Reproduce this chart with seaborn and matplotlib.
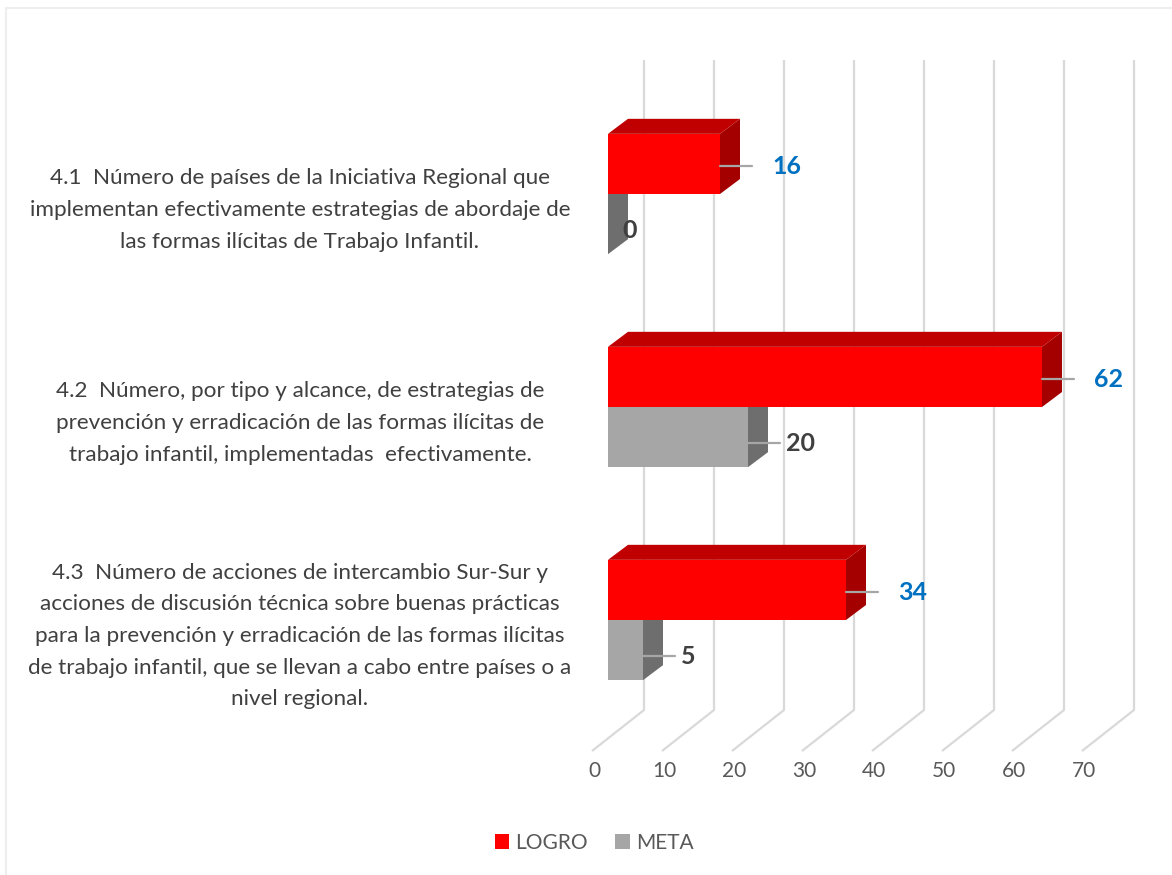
import matplotlib

matplotlib.use("Agg")
import matplotlib.pyplot as plt
import numpy as np
import pandas as pd
import seaborn as sns
from matplotlib.patches import Polygon, Rectangle

INDICADORES = [
    "4.1  Número de países de la Iniciativa Regional que\n"
    "implementan efectivamente estrategias de abordaje de\n"
    "las formas ilícitas de Trabajo Infantil.",
    "4.2  Número, por tipo y alcance, de estrategias de\n"
    "prevención y erradicación de las formas ilícitas de\n"
    "trabajo infantil, implementadas  efectivamente.",
    "4.3  Número de acciones de intercambio Sur-Sur y\n"
    "acciones de discusión técnica sobre buenas prácticas\n"
    "para la prevención y erradicación de las formas ilícitas\n"
    "de trabajo infantil, que se llevan a cabo entre países o a\n"
    "nivel regional.",
]
LOGRO = [16, 62, 34]
META = [0, 20, 5]
SERIES = ["LOGRO", "META"]
TICKS = [0, 10, 20, 30, 40, 50, 60, 70]

FRONT = {"LOGRO": "#ff0000", "META": "#a6a6a6"}
SIDE = {"LOGRO": "#a50000", "META": "#6e6e6e"}
TOP = {"LOGRO": "#c00000", "META": "#8c8c8c"}
LABEL_COLOR = {"LOGRO": "#0070c0", "META": "#404040"}

W, H = 1172, 875
X0_PX, PX_PER_UNIT = 608, 7.0  # pixel of value 0 on bar front, pixels per unit
Y0_PX, PX_PER_CAT = 194, 213.0

# 3D offsets (data units)
DX = 20 / PX_PER_UNIT
DY = -15 / PX_PER_CAT
BACK_DX = 36 / PX_PER_UNIT
FLOOR_DX = -16 / PX_PER_UNIT


def px_x(p):
    return (p - X0_PX) / PX_PER_UNIT


def px_y(p):
    return (p - Y0_PX) / PX_PER_CAT


df = pd.DataFrame(
    {
        "indicador": INDICADORES * 2,
        "valor": LOGRO + META,
        "serie": ["LOGRO"] * len(LOGRO) + ["META"] * len(META),
    }
)

sns.set_style("white")
plt.rcParams["font.family"] = ["Lato", "DejaVu Sans"]

fig = plt.figure(figsize=(W / 100, H / 100), dpi=100)
ax = fig.add_axes([0, 0, 1, 1])

sns.barplot(
    data=df,
    y="indicador",
    x="valor",
    hue="serie",
    hue_order=SERIES,
    orient="h",
    width=0.565,
    palette=FRONT,
    saturation=1,
    errorbar=None,
    legend=False,
    ax=ax,
)

ax.set_xlim(px_x(0), px_x(W))
ax.set_ylim(px_y(H), px_y(0))
ax.axis("off")

# back wall gridlines and floor
y_top, y_back, y_front = px_y(60), px_y(710), px_y(751)
for v in TICKS:
    ax.plot([v + BACK_DX, v + BACK_DX, v + FLOOR_DX], [y_top, y_back, y_front],
            color="#d9d9d9", lw=1.6, zorder=0, solid_capstyle="butt")
    ax.text(v + FLOOR_DX + 2 / PX_PER_UNIT, px_y(771), str(v), ha="center", va="center",
            fontsize=15, color="#595959")

# 3D faces for each bar
bars = [p for p in ax.patches if isinstance(p, Rectangle)]
n = len(INDICADORES)
for i, patch in enumerate(bars):
    serie = SERIES[i // n]
    z = 2 if serie == "META" else 3
    x0, x1 = patch.get_x(), patch.get_x() + patch.get_width()
    ya, yb = sorted([patch.get_y(), patch.get_y() + patch.get_height()])
    patch.set_zorder(z)
    patch.set_edgecolor("none")
    side = Polygon([(x1, ya), (x1 + DX, ya + DY), (x1 + DX, yb + DY), (x1, yb)],
                   closed=True, facecolor=SIDE[serie], edgecolor="none", zorder=z)
    top = Polygon([(x0, ya), (x0 + DX, ya + DY), (x1 + DX, ya + DY), (x1, ya)],
                  closed=True, facecolor=TOP[serie], edgecolor="none", zorder=z)
    ax.add_patch(side)
    ax.add_patch(top)

    value = patch.get_width()
    yc = (ya + yb) / 2 + (0.03 if serie == "META" else 0.01)
    if value > 0:
        ax.plot([x1, x1 + 32 / PX_PER_UNIT], [yc, yc], color="#a6a6a6", lw=1.6, zorder=4)
        gap = 52 if serie == "LOGRO" else 38
    else:
        gap = 14
    ax.text(x1 + gap / PX_PER_UNIT, yc, f"{value:.0f}", ha="left", va="center",
            fontsize=18, fontweight="bold", color=LABEL_COLOR[serie], zorder=5)

# category labels
for i, label in enumerate(INDICADORES):
    ax.text(px_x(300), i + 16 / PX_PER_CAT, label, ha="center", va="center",
            fontsize=16.2, color="#404040", linespacing=1.72)

# legend
handles = [Rectangle((0, 0), 1, 1, facecolor=FRONT[s], edgecolor="none") for s in SERIES]
leg = fig.legend(handles, SERIES, loc="center", bbox_to_anchor=(0.507, 1 - 843 / H), ncol=2,
                 frameon=False, fontsize=15, handlelength=0.7, handleheight=0.7,
                 handletextpad=0.3, columnspacing=1.3)
for t in leg.get_texts():
    t.set_color("#595959")

# faint chart border
fig.patches.append(Rectangle((6 / W, -0.1), 1.2, 1.1 - 8 / H, transform=fig.transFigure,
                             fill=False, edgecolor="#eeeeee", lw=1.5))

fig.savefig("out.png", dpi=100)
